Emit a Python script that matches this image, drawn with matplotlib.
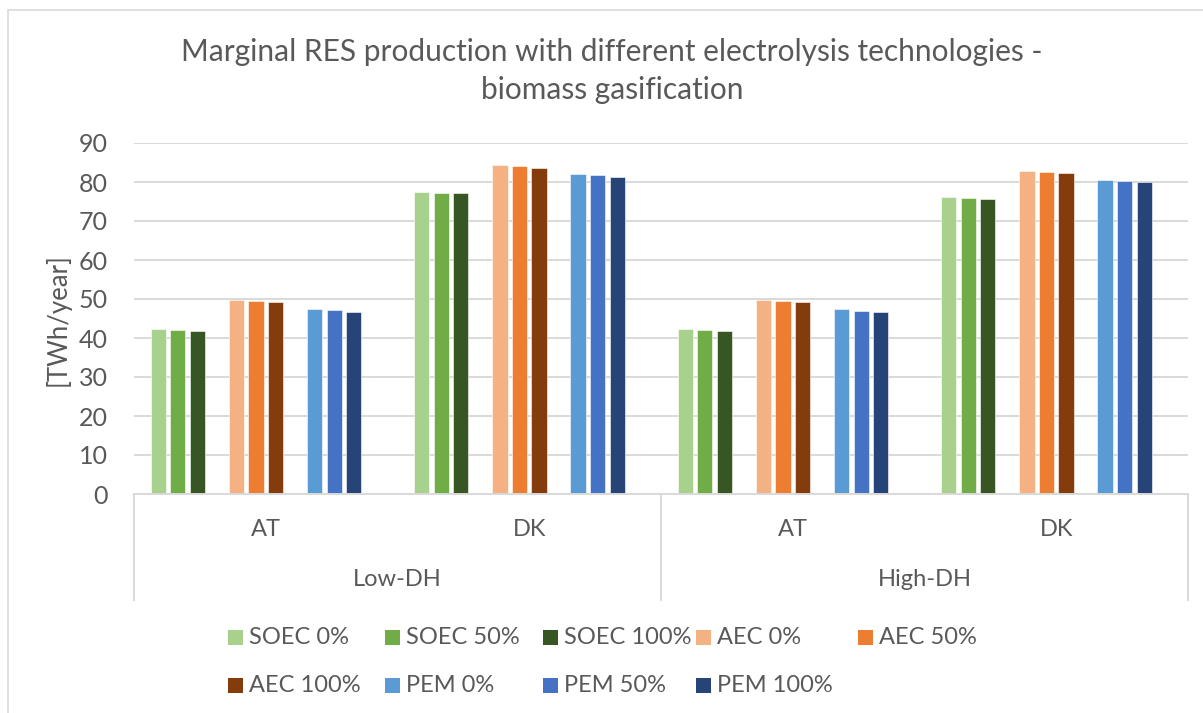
import matplotlib
matplotlib.use("Agg")
import matplotlib.pyplot as plt
from matplotlib.patches import Rectangle
from matplotlib.lines import Line2D

plt.rcParams['font.family'] = ['Lato', 'DejaVu Sans']

# ---- data -------------------------------------------------------------
title_lines = ["Marginal RES production with different electrolysis technologies -",
               "biomass gasification"]
y_label = "[TWh/year]"
countries = ["AT", "DK", "AT", "DK"]
scenarios = ["Low-DH", "High-DH"]
y_ticks = [0, 10, 20, 30, 40, 50, 60, 70, 80, 90]

series_names = ["SOEC 0%", "SOEC 50%", "SOEC 100%",
                "AEC 0%", "AEC 50%", "AEC 100%",
                "PEM 0%", "PEM 50%", "PEM 100%"]
series_colors = ["#A9D18E", "#70AD47", "#375623",
                 "#F4B183", "#ED7D31", "#843C0C",
                 "#5B9BD5", "#4472C4", "#264478"]

soec_0 = [42.2, 77.4, 42.2, 76.1]
soec_50 = [42.0, 77.2, 42.0, 75.9]
soec_100 = [41.9, 77.1, 41.8, 75.7]
aec_0 = [49.8, 84.3, 49.7, 82.7]
aec_50 = [49.6, 84.1, 49.5, 82.6]
aec_100 = [49.2, 83.6, 49.2, 82.3]
pem_0 = [47.4, 82.0, 47.4, 80.5]
pem_50 = [47.1, 81.7, 46.9, 80.3]
pem_100 = [46.7, 81.2, 46.6, 79.9]

series_values = [soec_0, soec_50, soec_100, aec_0, aec_50, aec_100,
                 pem_0, pem_50, pem_100]

# ---- figure -----------------------------------------------------------
W, H = 1203, 713
fig = plt.figure(figsize=(W / 100, H / 100), dpi=100)

def fx(px):
    return px / W

def fy(py):
    return 1 - py / H

text_col = "#595959"
grid_col = "#D9D9D9"
fs = 17

# chart frame
fig.patches.append(Rectangle((fx(8), fy(H + 20)), fx(W + 20), (H + 10) / H,
                             transform=fig.transFigure, fill=False,
                             edgecolor=grid_col, linewidth=1.2))

ax_l, ax_r, ax_t, ax_b = 134, 1188, 143, 494
ax = fig.add_axes([fx(ax_l), fy(ax_b), fx(ax_r - ax_l), (ax_b - ax_t) / H])

# bar layout: 12 slots per category, every 4th slot left empty
pitch = 0.0742
width = 0.058
slots = [0, 1, 2, 4, 5, 6, 8, 9, 10]
for name, col, vals, s in zip(series_names, series_colors, series_values, slots):
    xs = [i + (s - 5.5) * pitch for i in range(len(countries))]
    ax.bar(xs, vals, width=width, color=col, edgecolor="white",
           linewidth=0.4, zorder=3, label=name)

ax.set_xlim(-0.5, len(countries) - 0.5)
ax.set_ylim(0, 90)
ax.set_yticks(y_ticks)
ax.yaxis.grid(True, color=grid_col, linewidth=1.4, zorder=0)
ax.set_axisbelow(True)
for sp in ax.spines.values():
    sp.set_visible(False)
ax.tick_params(axis="y", length=0, pad=19, labelsize=18, labelcolor=text_col)
ax.set_xticks([])

# category axis (two levels)
xt = ax.get_xaxis_transform()
ah = ax_b - ax_t
ax.plot([-0.5, 3.5], [0, 0], color=grid_col, linewidth=1.4, transform=xt,
        clip_on=False, zorder=4)
for xv in [-0.5, 1.5, 3.5]:
    ax.add_line(Line2D([xv, xv], [0, -(600 - ax_b) / ah], transform=xt,
                       color=grid_col, linewidth=1.4, clip_on=False))
for i, c in enumerate(countries):
    ax.text(i, -(530 - ax_b) / ah, c, transform=xt, ha="center", va="center",
            fontsize=fs, color=text_col)
for j, sname in enumerate(scenarios):
    ax.text(2 * j + 0.5, -(580 - ax_b) / ah, sname, transform=xt,
            ha="center", va="center", fontsize=fs, color=text_col)

# y-axis title
fig.text(fx(58), fy(320), y_label, rotation=90, ha="center", va="center",
         fontsize=18.5, color=text_col)

# chart title
fig.text(fx(612), fy(61), title_lines[0], ha="center", va="baseline",
         fontsize=21.5, color=text_col)
fig.text(fx(612), fy(99), title_lines[1], ha="center", va="baseline",
         fontsize=21.5, color=text_col)

# legend
col_x = [228, 385, 543, 696, 858]
row_y = [637, 685]
sq = 15
for k, (name, col) in enumerate(zip(series_names, series_colors)):
    r, c = divmod(k, 5)
    x0, y0 = col_x[c], row_y[r]
    fig.patches.append(Rectangle((fx(x0), fy(y0 + sq / 2)), fx(sq), sq / H,
                                 transform=fig.transFigure, facecolor=col,
                                 edgecolor="none"))
    fig.text(fx(x0 + sq + 6), fy(y0), name, ha="left", va="center",
             fontsize=fs, color=text_col)

fig.savefig("out.png", dpi=100)
